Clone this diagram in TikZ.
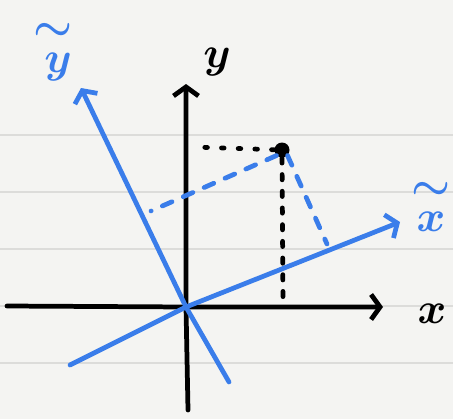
\documentclass[tikz,border=0pt]{standalone}
\usepackage{tikz}
\usepackage{amsmath,bm}
\usetikzlibrary{arrows.meta}
\definecolor{paper}{HTML}{F4F4F2}
\definecolor{rule}{HTML}{DCDCDA}
\definecolor{pen}{HTML}{3A7DEA}
\tikzset{
  axisarr/.style  = {-{Straight Barb[length=1.8mm,width=5mm]}, line width=2.7pt, line cap=round, line join=round},
  projdot/.style  = {line width=2.7pt, line cap=round, dash pattern=on 1.5pt off 8pt},
  projdash/.style = {line width=2.7pt, line cap=round, dash pattern=on 3pt off 6.5pt},
  tiltdash/.style = {pen, line width=2.7pt, line cap=round, dash pattern=on 6pt off 7pt},
  axlabel/.style  = {font=\fontsize{27}{29}\selectfont, inner sep=0pt},
  tiltlabel/.style = {pen, align=center, font=\fontsize{26}{18}\selectfont, inner sep=0pt}
}
\begin{document}
\begin{tikzpicture}[x=0.02cm, y=-0.02cm]
  % paper with its ruled lines
  \fill[paper] (0,0) rectangle (453,419);
  \useasboundingbox (0,0) rectangle (453,419);
  \foreach \ry in {135,192,249,306,363}
    \draw[rule, line width=0.6pt] (0,\ry) -- (453,\ry);
  \coordinate (O) at (186,307);
  \coordinate (xl) at (7,306);
  \coordinate (xr) at (383,307);
  \coordinate (yb) at (188,410);
  \coordinate (yt) at (186,84);
  % the plain axes
  \draw[axisarr] (xl) -- (O) -- (xr);
  \draw[axisarr] (yb) -- (O) -- (yt);
  \node[axlabel] (lx) at (432,314) {$\bm{x}$};
  \node[axlabel] (ly) at (217,62) {$\bm{y}$};
  % the turned axes
  \coordinate (txl) at (70,365);
  \coordinate (txr) at (400,222);
  \coordinate (tyb) at (229,382);
  \coordinate (tyt) at (81,88);
  \draw[axisarr,pen] (txl) -- (O) -- (txr);
  \draw[axisarr,pen] (tyb) -- (O) -- (tyt);
  \node[tiltlabel] (ltx) at (431,207) {$\bm{\sim}$\\$\bm{x}$};
  \node[tiltlabel] (lty) at (58,52) {$\bm{\sim}$\hspace*{6pt}\\$\bm{y}$};
  % the point and its coordinates in both frames
  \node[circle, fill=black, minimum size=0.3cm, inner sep=0pt] (P) at (282,150) {};
  \coordinate (Py) at (194,147);
  \coordinate (Px) at (283,298);
  \coordinate (Pty) at (151,211);
  \coordinate (Ptx) at (327,244);
  \draw[projdot] (P) -- (Py);
  \draw[projdash] (P.south) -- (Px);
  \draw[tiltdash] (P.south west) -- (Pty);
  \draw[tiltdash] (P.south east) -- (Ptx);
\end{tikzpicture}
\end{document}
